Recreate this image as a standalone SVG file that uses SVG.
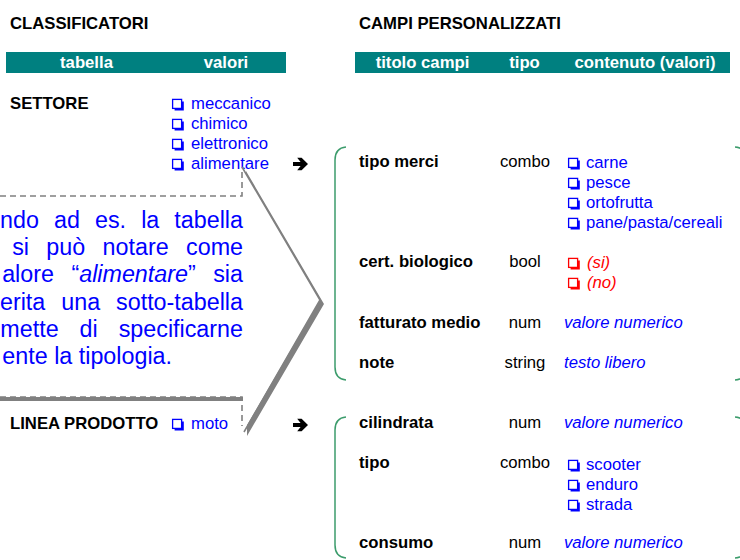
<svg xmlns="http://www.w3.org/2000/svg" xmlns:xlink="http://www.w3.org/1999/xlink" width="740" height="560" viewBox="0 0 740 560">
<style>
text{font-family:"Liberation Sans",Arial,sans-serif;font-size:16.7px}
.h{font-weight:bold;fill:#000}
.hw{font-weight:bold;fill:#fff;text-anchor:middle}
.b{font-weight:bold;fill:#000}
.n{fill:#000}
.t{fill:#000;text-anchor:middle}
.v{fill:#0000ff}
.vi{fill:#0000ff;font-style:italic}
.ri{fill:#ff0000;font-style:italic}
.co{fill:#0000ff;font-size:23.3px;text-anchor:end}
.bar{fill:#008080}
.br{fill:none;stroke:#3c9c6c;stroke-width:1.5}
.dash{fill:none;stroke:#808080;stroke-width:1.6;stroke-dasharray:6 4}
.solid{fill:none;stroke:#808080;stroke-width:1.6}
</style>
<defs>
<g id="cb">
<rect x="0.6" y="-9.6" width="9" height="9" fill="#fff" stroke="currentColor" stroke-width="1.3"/>
<path d="M9.6,-7.6H11.8V1.6H2.6V-0.6H9.6Z" fill="currentColor"/>
</g>
<path id="arr" d="M0,-2H7.6L4.2,-6.2H8.6L15,0L8.6,6.2H4.2L7.6,2H0Z" fill="#000"/>
</defs>
<rect width="740" height="560" fill="#fff"/>

<g id="title-classificatori"><text class="h" x="10" y="29">CLASSIFICATORI</text></g>
<g id="title-campi"><text class="h" x="359" y="29">CAMPI PERSONALIZZATI</text></g>

<g id="header-left">
<rect class="bar" x="6" y="52" width="280" height="21"/>
<text class="hw" x="86.5" y="68">tabella</text>
<text class="hw" x="226" y="68">valori</text>
</g>
<g id="header-right">
<rect class="bar" x="355" y="52" width="375" height="21"/>
<text class="hw" x="422.5" y="68">titolo campi</text>
<text class="hw" x="524.5" y="68">tipo</text>
<text class="hw" x="645" y="68">contenuto (valori)</text>
</g>

<g id="settore">
<text class="b" x="10" y="109">SETTORE</text>
<use xlink:href="#cb" x="172" y="109" color="#0000ff"/>
<text class="v" x="191" y="109">meccanico</text>
<use xlink:href="#cb" x="172" y="129" color="#0000ff"/>
<text class="v" x="191" y="129">chimico</text>
<use xlink:href="#cb" x="172" y="149" color="#0000ff"/>
<text class="v" x="191" y="149">elettronico</text>
<use xlink:href="#cb" x="172" y="169" color="#0000ff"/>
<text class="v" x="191" y="169">alimentare</text>
</g>

<g id="linea-prodotto">
<text class="b" x="10" y="429">LINEA PRODOTTO</text>
<use xlink:href="#cb" x="172" y="429" color="#0000ff"/>
<text class="v" x="191" y="429">moto</text>
</g>

<g id="callout">
<path d="M-10,200H246V171L324,304L247,436V401H-10Z" fill="#808080"/>
<path d="M-10,196H242V167L320,300L243,432V397H-10Z" fill="#fff"/>
<path class="dash" d="M-10,196H242V168"/>
<path class="dash" d="M-10,397H242V426"/>
<path class="solid" d="M242,167L320,300L244,432"/>
<text class="co" x="243" y="228" word-spacing="8.6">ndo ad es. la tabella</text>
<text class="co" x="243" y="255" word-spacing="10.9">si può notare come</text>
<text class="co" x="243" y="282" word-spacing="11">alore “<tspan font-style="italic">alimentare</tspan>” sia</text>
<text class="co" x="243" y="310" word-spacing="9.5">erita una sotto-tabella</text>
<text class="co" x="243" y="337" word-spacing="14.5">mette di specificarne</text>
<text class="co" x="172" y="364">ente la tipologia.</text>
</g>

<g id="connectors">
<use xlink:href="#arr" x="293" y="164"/>
<use xlink:href="#arr" x="293" y="425"/>
</g>

<g id="gruppo-settore">
<path class="br" d="M346,147Q335,148 335,160V367Q335,379 346,380"/>
<path class="br" d="M735,147Q747,148 747,160V367Q747,379 735,380"/>
</g>
<g id="gruppo-linea">
<path class="br" d="M346,417Q335,418 335,430V545Q335,557 346,558"/>
<path class="br" d="M735,417Q747,418 747,430V545Q747,557 735,558"/>
</g>

<g id="campo-tipo-merci">
<text class="b" x="359" y="167">tipo merci</text>
<text class="t" x="525" y="167">combo</text>
<use xlink:href="#cb" x="568" y="168" color="#0000ff"/>
<text class="v" x="586" y="168">carne</text>
<use xlink:href="#cb" x="568" y="188" color="#0000ff"/>
<text class="v" x="586" y="188">pesce</text>
<use xlink:href="#cb" x="568" y="208" color="#0000ff"/>
<text class="v" x="586" y="208">ortofrutta</text>
<use xlink:href="#cb" x="568" y="228" color="#0000ff"/>
<text class="v" x="586" y="228">pane/pasta/cereali</text>
</g>
<g id="campo-cert-biologico">
<text class="b" x="359" y="267">cert. biologico</text>
<text class="t" x="525" y="267">bool</text>
<use xlink:href="#cb" x="568" y="268" color="#ff0000"/>
<text class="ri" x="587" y="268">(si)</text>
<use xlink:href="#cb" x="568" y="288" color="#ff0000"/>
<text class="ri" x="587" y="288">(no)</text>
</g>
<g id="campo-fatturato">
<text class="b" x="359" y="328">fatturato medio</text>
<text class="t" x="525" y="328">num</text>
<text class="vi" x="564" y="328">valore numerico</text>
</g>
<g id="campo-note">
<text class="b" x="359" y="368">note</text>
<text class="t" x="525" y="368">string</text>
<text class="vi" x="564" y="368">testo libero</text>
</g>

<g id="campo-cilindrata">
<text class="b" x="359" y="428">cilindrata</text>
<text class="t" x="525" y="428">num</text>
<text class="vi" x="564" y="428">valore numerico</text>
</g>
<g id="campo-tipo">
<text class="b" x="359" y="468">tipo</text>
<text class="t" x="525" y="468">combo</text>
<use xlink:href="#cb" x="568" y="470" color="#0000ff"/>
<text class="v" x="586" y="470">scooter</text>
<use xlink:href="#cb" x="568" y="490" color="#0000ff"/>
<text class="v" x="586" y="490">enduro</text>
<use xlink:href="#cb" x="568" y="510" color="#0000ff"/>
<text class="v" x="586" y="510">strada</text>
</g>
<g id="campo-consumo">
<text class="b" x="359" y="548">consumo</text>
<text class="t" x="525" y="548">num</text>
<text class="vi" x="564" y="548">valore numerico</text>
</g>
</svg>
